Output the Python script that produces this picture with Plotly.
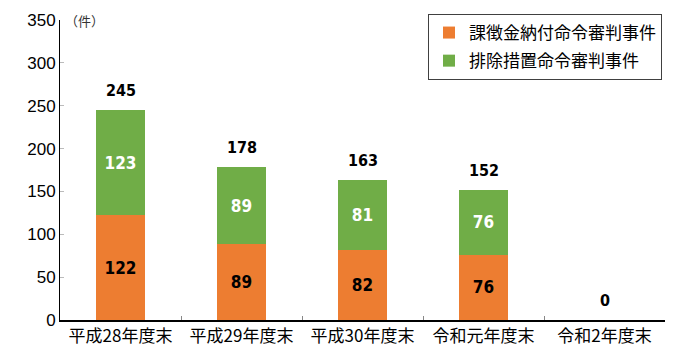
import plotly.graph_objects as go

categories = ["平成28年度末", "平成29年度末", "平成30年度末", "令和元年度末", "令和2年度末"]
kachokin = [122, 89, 82, 76, 0]
haijo = [123, 89, 81, 76, 0]
totals = [245, 178, 163, 152, 0]
series_names = ["課徴金納付命令審判事件", "排除措置命令審判事件"]
yticks = [0, 50, 100, 150, 200, 250, 300, 350]

ORANGE = "#ED7D31"
GREEN = "#70AD47"
NUM_FONT = "Liberation Sans Narrow, DejaVu Sans Condensed, Arial Narrow, Liberation Sans, Arial"
CJK_FONT = "Noto Sans CJK JP, sans-serif"

fig = go.Figure()
fig.add_trace(go.Bar(
    x=categories, y=kachokin, name=series_names[0], legendgroup="a",
    marker=dict(color=ORANGE, line=dict(width=0)),
    text=[str(v) if v else "" for v in kachokin],
    textposition="inside", insidetextanchor="middle",
    textfont=dict(color="black", size=17, family=NUM_FONT, weight="bold"),
    width=0.4,
))
fig.add_trace(go.Bar(
    x=categories, y=haijo, name=series_names[1], legendgroup="b",
    marker=dict(color=GREEN, line=dict(width=0)),
    text=[str(v) if v else "" for v in haijo],
    textposition="inside", insidetextanchor="middle",
    textfont=dict(color="white", size=17, family=NUM_FONT, weight="bold"),
    width=0.4,
))

for c, t in zip(categories, totals):
    fig.add_annotation(x=c, y=t, text=str(t), showarrow=False,
                       yanchor="bottom", yshift=8,
                       font=dict(size=16, color="black", family=NUM_FONT, weight="bold"))

fig.add_annotation(xref="paper", yref="paper", x=0.005, y=1.0, text="（件）",
                   showarrow=False, xanchor="left", yanchor="middle",
                   font=dict(size=13, color="#333333", family=CJK_FONT))

fig.update_layout(
    barmode="stack",
    width=682, height=359,
    margin=dict(l=60, r=17, t=20, b=39),
    plot_bgcolor="white", paper_bgcolor="white",
    showlegend=True,
    uniformtext=dict(mode=False),
    legend=dict(
        x=0.995, y=1.02, xanchor="right", yanchor="top",
        traceorder="grouped", tracegroupgap=3,
        bordercolor="#404040", borderwidth=1, bgcolor="white",
        font=dict(size=17, color="black", family=CJK_FONT),
        itemwidth=30,
    ),
    xaxis=dict(
        showline=True, linecolor="black", linewidth=2,
        ticks="inside", tickson="boundaries", ticklen=4, tickcolor="#888888",
        tickfont=dict(size=17, color="black", family=CJK_FONT),
        showgrid=False, automargin=False,
    ),
    yaxis=dict(
        range=[0, 350], tickvals=yticks,
        showline=True, linecolor="black", linewidth=1,
        ticks="inside", ticklen=4, tickcolor="#bbbbbb",
        tickfont=dict(size=17, color="black", family="Liberation Sans, Arial"),
        showgrid=False, zeroline=False, automargin=False,
    ),
)

fig.write_html("out.html",
               config={"displayModeBar": False},
               post_script="document.body.style.margin='0';document.body.style.overflow='hidden';")
